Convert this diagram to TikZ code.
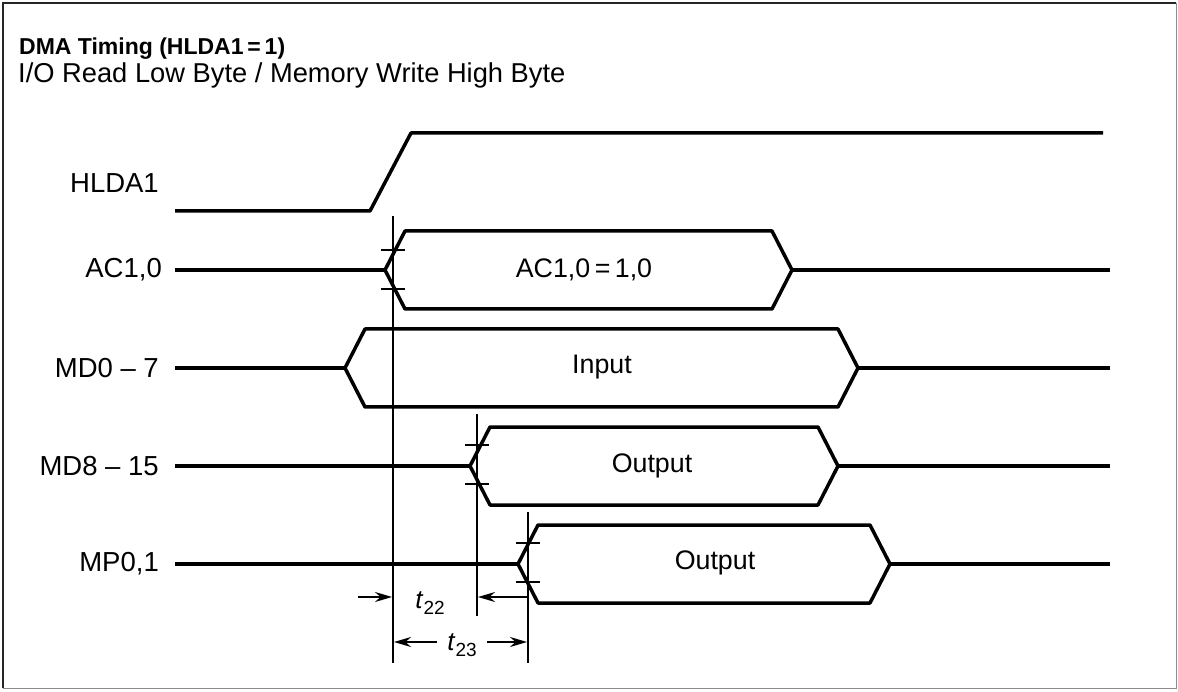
\documentclass[tikz,border=0pt]{standalone}
\usepackage{fontspec}
\setmainfont{Liberation Sans}
\usetikzlibrary{arrows.meta}

\tikzset{
  signal/.style={line width=3.5pt,line join=round},
  guide/.style={line width=1.6pt},
  tickmark/.style={line width=1.6pt},
  dim/.style={line width=1.8pt,-{Stealth[length=17pt,width=10pt]}},
  signame/.style={anchor=east,inner sep=0pt,font=\fontsize{27.5}{32}\selectfont},
  busval/.style={inner sep=0pt,font=\fontsize{26.8}{32}\selectfont},
  tlabel/.style={inner sep=0pt,font=\fontsize{26}{30}\selectfont}
}

% bus: left point x, right point x, middle y
\newcommand\busbox[3]{%
  \draw[signal] (#1+20,#3-39) -- (#1,#3) -- (#1+20,#3+39) -- (#2-20,#3+39)
    -- (#2,#3) -- (#2-20,#3-39) -- cycle;}
\newcommand\tsub[2]{\textit{#1}\raisebox{-0.45ex}{\fontsize{19}{20}\selectfont #2}}

\begin{document}
\begin{tikzpicture}[x=1pt,y=-1pt]
  \useasboundingbox (0,0) rectangle (1178,692);
  \draw[line width=1.2pt,black!85] (3,688) -- (3,3) -- (1176,3);
  \draw[line width=1pt,black!45] (1176,3) -- (1176,688) -- (3,688);

  % title
  \node (title) [anchor=base west,inner sep=0pt,font=\bfseries\fontsize{23}{27}\selectfont] at (19,55) {DMA Timing (HLDA1\,=\,1)};
  \node (sub) [anchor=base west,inner sep=0pt,font=\fontsize{27.3}{31}\selectfont] at (18,83) {I/O Read Low Byte / Memory Write High Byte};

  % signal names
  \node (hlda) [signame] at (159,183) {HLDA1};
  \node (ac)   [signame] at (162,270) {AC1,0};
  \node (md0)  [signame] at (159,368) {MD0 -- 7};
  \node (md8)  [signame] at (159,466) {MD8 -- 15};
  \node (mp)   [signame] at (159,564) {MP0,1};

  % HLDA1
  \draw[signal] (175,211) -- (370,211) -- (411,133) -- (1103,133);

  % AC1,0
  \draw[signal] (175,270) -- (385,270);
  \busbox{385}{792}{270}
  \draw[signal] (792,270) -- (1110,270);
  \node (acval) [busval] at (584,270) {AC1,0\,=\,1,0};

  % MD0 - 7
  \draw[signal] (175,368) -- (345,368);
  \busbox{345}{858}{368}
  \draw[signal] (858,368) -- (1110,368);
  \node (input) [busval] at (602,367) {Input};

  % MD8 - 15
  \draw[signal] (175,466) -- (470,466);
  \busbox{470}{838}{466}
  \draw[signal] (838,466) -- (1110,466);
  \node (outhi) [busval] at (652,466) {Output};

  % MP0,1
  \draw[signal] (175,564) -- (518,564);
  \busbox{518}{890}{564}
  \draw[signal] (890,564) -- (1110,564);
  \node (outmp) [busval] at (715,563) {Output};

  % reference lines
  \coordinate (ga) at (393,216);
  \coordinate (gb) at (477,414);
  \coordinate (gc) at (528,512);
  \draw[guide] (ga) -- (393,663);
  \draw[guide] (gb) -- (477,616);
  \draw[guide] (gc) -- (528,663);

  % ticks
  \draw[tickmark] (381,250) -- (405,250) (381,289) -- (405,289);
  \draw[tickmark] (465,445) -- (489,445) (465,484) -- (489,484);
  \draw[tickmark] (516,543) -- (540,543) (516,582) -- (540,582);

  % t22
  \draw[dim] (358,597) -- (392,597);
  \draw[dim] (527,597) -- (478,597);
  \node (t22) [tlabel] at (430,603) {\tsub{t}{22}};

  % t23
  \draw[dim] (437,642) -- (394,642);
  \draw[dim] (487,642) -- (527,642);
  \node (t23) [tlabel] at (462,645) {\tsub{t}{23}};
\end{tikzpicture}
\end{document}
